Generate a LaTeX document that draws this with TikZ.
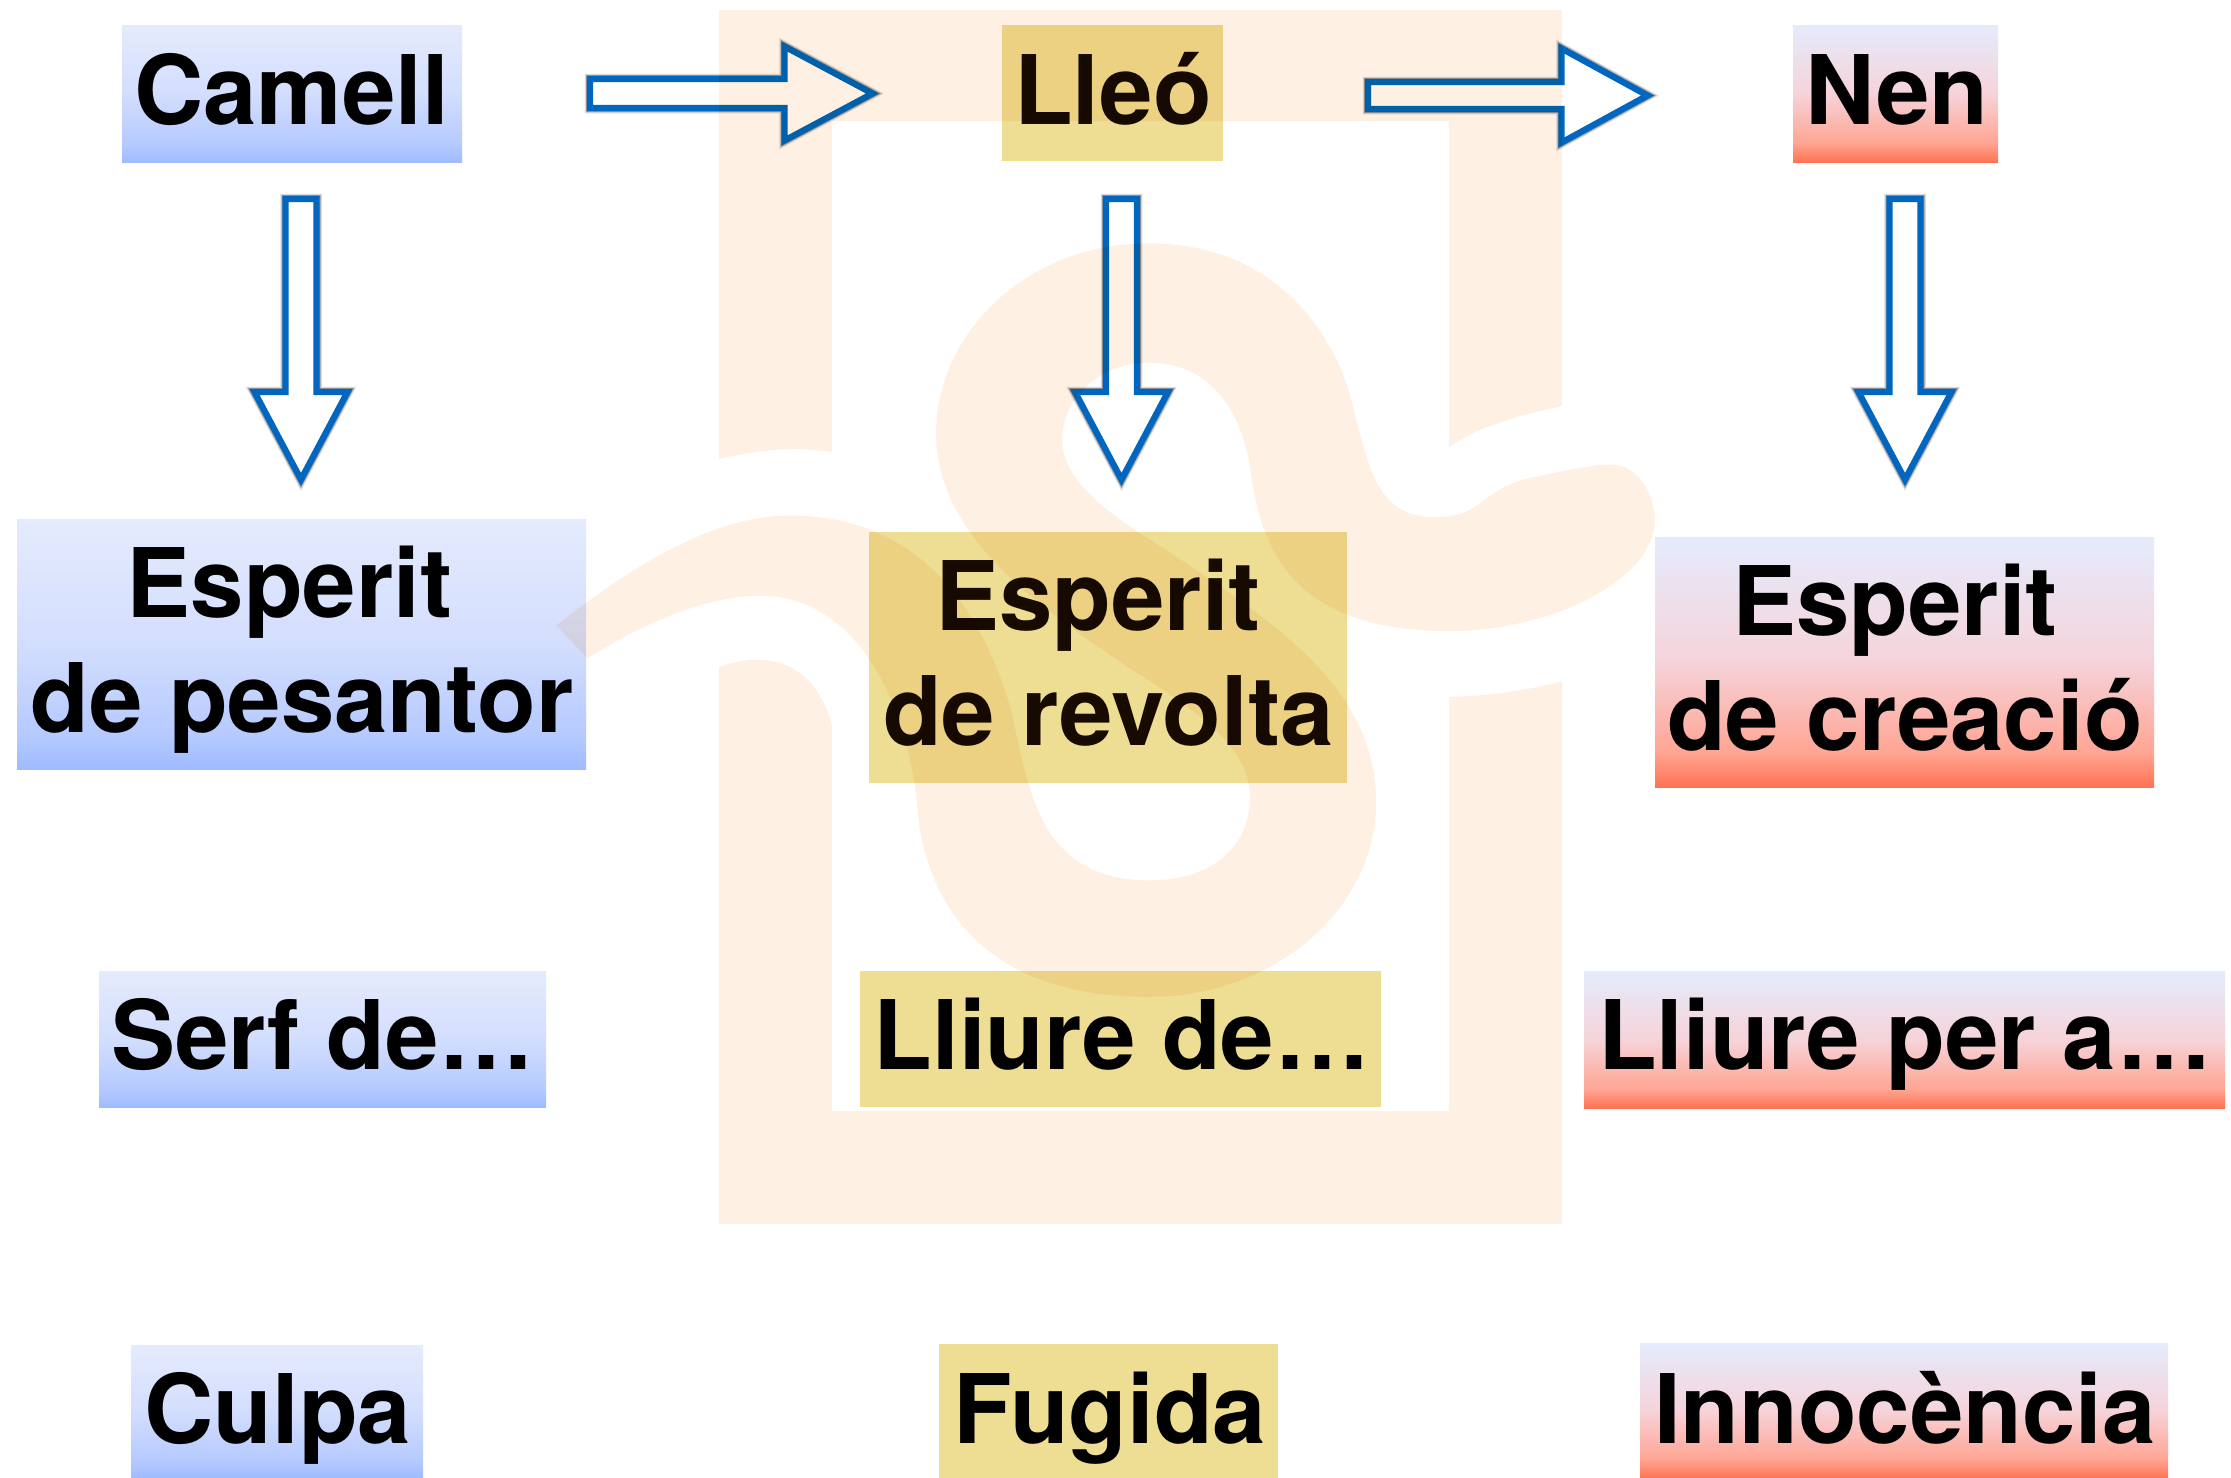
\documentclass[tikz,border=0pt]{standalone}
\usepackage{fontspec}
\setmainfont{TeX Gyre Heros}
\usetikzlibrary{calc}
\definecolor{bandc}{HTML}{FEF1E4}
\definecolor{yellowbox}{HTML}{EDDE93}
\definecolor{arrowblue}{HTML}{0066BF}
\definecolor{browntext}{HTML}{170B00}
\definecolor{gtop}{HTML}{E5EBFD}
\definecolor{gbm}{HTML}{D3DEFE}
\definecolor{gbl}{HTML}{B6CAFF}
\definecolor{gbb}{HTML}{9FBBFF}
\definecolor{grm}{HTML}{F6D3DA}
\definecolor{grl}{HTML}{FFA593}
\definecolor{grb}{HTML}{FF7353}
\pgfdeclareverticalshading{bluegrad}{100bp}{color(0bp)=(gbb); color(25bp)=(gbb); color(32bp)=(gbl); color(50bp)=(gbm); color(75bp)=(gtop); color(100bp)=(gtop)}
\pgfdeclareverticalshading{redgrad}{100bp}{color(0bp)=(grb); color(25bp)=(grb); color(32bp)=(grl); color(50bp)=(grm); color(75bp)=(gtop); color(100bp)=(gtop)}
\tikzset{
  boxbase/.style={rectangle,inner sep=0pt,outer sep=0pt},
  bluebox/.style={boxbase,shading=bluegrad},
  redbox/.style={boxbase,shading=redgrad},
  yellowrect/.style={boxbase,fill=yellowbox},
  lbl/.style={inner sep=0pt,outer sep=0pt,anchor=base,align=center,text=black,font=\fontsize{96}{114.5}\selectfont\bfseries},
  lblbrown/.style={lbl,text=browntext},
  blockarrow/.style={draw=arrowblue,fill=white,line width=6.2pt,miter limit=10,line join=miter},
  shadowa/.style={draw=black,draw opacity=.15,line width=10.5pt,miter limit=10},
  shadowb/.style={draw=black,draw opacity=.3,line width=8pt,miter limit=10},
  wm/.style={fill=bandc,blend mode=multiply}
}
\newcommand{\rightblockpath}[5]{($(#1)+(0,-#3)$) -- ($(#2)+(-#4,-#3)$) -- ($(#2)+(-#4,-#5)$) -- (#2) -- ($(#2)+(-#4,#5)$) -- ($(#2)+(-#4,#3)$) -- ($(#1)+(0,#3)$) -- cycle}
\newcommand{\downblockpath}[5]{($(#1)+(-#3,0)$) -- ($(#2)+(-#3,-#4)$) -- ($(#2)+(-#5,-#4)$) -- (#2) -- ($(#2)+(#5,-#4)$) -- ($(#2)+(#3,-#4)$) -- ($(#1)+(#3,0)$) -- cycle}
\newcommand{\rightblock}[5]{%
  \draw[shadowa,shift={(2,4)}] \rightblockpath{#1}{#2}{#3}{#4}{#5};
  \draw[shadowb,shift={(1.5,3)}] \rightblockpath{#1}{#2}{#3}{#4}{#5};
  \draw[blockarrow] \rightblockpath{#1}{#2}{#3}{#4}{#5};}
\newcommand{\downblock}[5]{%
  \draw[shadowa,shift={(3,3)}] \downblockpath{#1}{#2}{#3}{#4}{#5};
  \draw[shadowb,shift={(2,2.5)}] \downblockpath{#1}{#2}{#3}{#4}{#5};
  \draw[blockarrow] \downblockpath{#1}{#2}{#3}{#4}{#5};}
\begin{document}
\begin{tikzpicture}[x=1pt,y=-1pt]
\useasboundingbox (0,0) rectangle (2231,1478);
\fill[white] (0,0) rectangle (2231,1478);
% boxes
\node[bluebox,minimum width=340pt,minimum height=137pt] (camell) at (292,93.5) {};
\node[yellowrect,minimum width=221pt,minimum height=136pt] (lleo) at (1112.5,93) {};
\node[redbox,minimum width=205pt,minimum height=137pt] (nen) at (1895.5,93.5) {};
\node[bluebox,minimum width=569pt,minimum height=250pt] (pes) at (301.5,644) {};
\node[yellowrect,minimum width=478pt,minimum height=251pt] (rev) at (1108,657.5) {};
\node[redbox,minimum width=499pt,minimum height=250pt] (cre) at (1904.5,662) {};
\node[bluebox,minimum width=447pt,minimum height=136pt] (serf) at (322.5,1039) {};
\node[yellowrect,minimum width=521pt,minimum height=136pt] (lliure) at (1120.5,1039) {};
\node[redbox,minimum width=641pt,minimum height=137pt] (lliurep) at (1904.5,1039.5) {};
\node[bluebox,minimum width=292pt,minimum height=133pt] (culpa) at (277,1411.5) {};
\node[yellowrect,minimum width=339pt,minimum height=134pt] (fug) at (1108.5,1411) {};
\node[redbox,minimum width=528pt,minimum height=135pt] (inno) at (1904,1410.5) {};
% arrows
\coordinate (h1s) at (590,93.5); \coordinate (h1e) at (872.5,93.5);
\coordinate (h2s) at (1368,95.5); \coordinate (h2e) at (1647.5,95.5);
\coordinate (d1s) at (301,199); \coordinate (d1e) at (301,479.5);
\coordinate (d2s) at (1121.5,199); \coordinate (d2e) at (1121.5,479.5);
\coordinate (d3s) at (1905,199); \coordinate (d3e) at (1905,479.5);
\rightblock{h1s}{h1e}{14.5}{88}{47}
\rightblock{h2s}{h2e}{13.5}{86}{47}
\downblock{d1s}{d1e}{15.5}{87.5}{46.5}
\downblock{d2s}{d2e}{15.5}{87.5}{46.5}
\downblock{d3s}{d3e}{15.5}{87.5}{46.5}
% texts
\node[lbl] (camellt) at (291.5,124) {Camell};
\node[lblbrown] (lleot) at (1113,124) {Lleó};
\node[lbl] (nent) at (1897,124) {Nen};
\node[lbl] (pest) at (302,732) {Esperit\hspace*{25pt}\\de pesantor};
\node[lblbrown] (revt) at (1108.5,745) {Esperit\hspace*{21pt}\\de revolta};
\node[lbl] (cret) at (1905,750) {Esperit\hspace*{20pt}\\de creació};
\node[lbl] (serft) at (323,1069) {Serf de…};
\node[lbl] (lliuret) at (1122,1069) {Lliure de…};
\node[lbl] (lliurept) at (1905,1069) {Lliure per a…};
\node[lbl] (culpat) at (278,1443) {Culpa};
\node[lbl] (fugt) at (1110,1443) {Fugida};
\node[lbl] (innot) at (1905,1443) {Innocència};
% watermark
\fill[wm] (719,10) -- (1562,10) -- (1562,406) .. controls (1515,416) and (1475,428) .. (1449,447) -- (1449,121) -- (832,121) -- (832,452) .. controls (795,446) and (755,450) .. (719,459) -- cycle;
\fill[wm] (719,667) .. controls (765,650) and (815,660) .. (832,726) -- (832,1111) -- (1449,1111) -- (1449,697) .. controls (1490,696) and (1530,690) .. (1562,681) -- (1562,1224) -- (719,1224) -- cycle;
\begin{scope}[shift={(540,200)},xscale=0.7334,yscale=0.5421]
\fill[wm] (22,785) .. controls (130,670) and (240,582) .. (340,582)
  .. controls (540,582) and (610,800) .. (640,930)
  .. controls (665,1060) and (670,1255) .. (830,1255)
  .. controls (920,1255) and (968,1190) .. (968,1100)
  .. controls (968,1000) and (880,930) .. (800,860)
  .. controls (680,750) and (540,620) .. (540,430)
  .. controls (540,250) and (660,80) .. (830,80)
  .. controls (1010,80) and (1090,260) .. (1110,390)
  .. controls (1130,490) and (1140,585) .. (1220,585)
  .. controls (1290,585) and (1280,530) .. (1360,510)
  .. controls (1410,495) and (1440,488) .. (1460,488)
  .. controls (1500,488) and (1520,550) .. (1520,590)
  .. controls (1520,700) and (1380,795) .. (1240,795)
  .. controls (1030,795) and (985,650) .. (970,510)
  .. controls (960,400) and (920,300) .. (830,300)
  .. controls (760,300) and (712,370) .. (712,440)
  .. controls (712,530) and (790,590) .. (870,660)
  .. controls (1000,780) and (1140,900) .. (1140,1110)
  .. controls (1140,1310) and (1000,1470) .. (830,1470)
  .. controls (620,1470) and (530,1320) .. (515,1130)
  .. controls (505,950) and (440,730) .. (300,730)
  .. controls (220,730) and (130,790) .. (65,845) -- cycle;
\end{scope}
\end{tikzpicture}
\end{document}
